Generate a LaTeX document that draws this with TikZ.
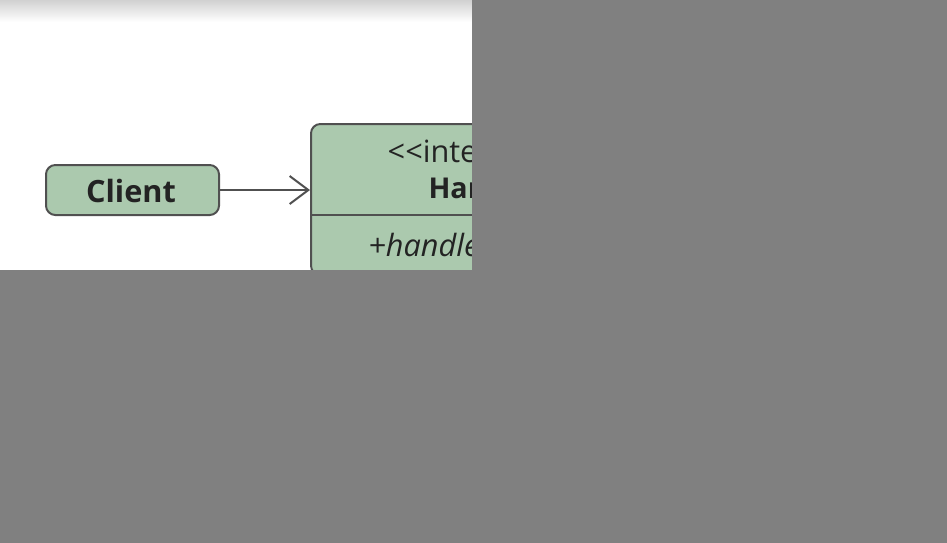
\documentclass[tikz,border=0pt]{standalone}
\usepackage{fontspec}
\setmainfont{Open Sans}
\usepackage{tikz}
\usetikzlibrary{arrows.meta,positioning,calc}

\definecolor{classfill}{RGB}{171,201,174}
\definecolor{classline}{RGB}{80,80,80}
\definecolor{inktext}{RGB}{35,35,35}
\definecolor{maskgrey}{RGB}{128,128,128}

\tikzset{
  umlbox/.style={draw=classline, fill=classfill, line width=1.5pt, rounded corners=7pt, inner sep=0pt},
  labeltext/.style={text=inktext, font=\fontsize{23}{28}\selectfont, inner sep=0pt}
}

\begin{document}
\begin{tikzpicture}[x=0.75pt,y=-0.75pt]
    \useasboundingbox (0,0) rectangle (947,543);
    \fill[white] (0,0) rectangle (947,543);
    \shade[top color=black!18,bottom color=white] (0,0) rectangle (472,22);
    % client and handler interface
    \node[umlbox, labeltext, minimum width=129.75pt, minimum height=37.5pt] (client) at (132.5,190) {};
    \node[labeltext, anchor=base] (cname) at (131,202) {\bfseries Client};
    \node[umlbox, minimum width=262.5pt, minimum height=113.25pt] (handler) at (486,199.5) {};
    \draw[classline, line width=1.5pt] (handler.west |- 0,215) -- (handler.east |- 0,215);
    \node[labeltext, anchor=base] (stereo) at (486,162) {{<}{<}interface{>}{>}};
    \node[labeltext, font=\fontsize{21.5}{26}\selectfont, anchor=base] (hname) at (486,198) {\bfseries Handler};
    \node[labeltext, anchor=base] (hop) at (486,256) {\itshape +handleRequest()};
    \path [draw=classline, line width=1.5pt, -{Straight Barb[length=14pt,width=21pt]}](client) edge node {} (client -| handler.west);
    % hidden parts
    \fill[maskgrey] (472,0) rectangle (947,543);
    \fill[maskgrey] (0,270) rectangle (472,543);
\end{tikzpicture}
\end{document}
